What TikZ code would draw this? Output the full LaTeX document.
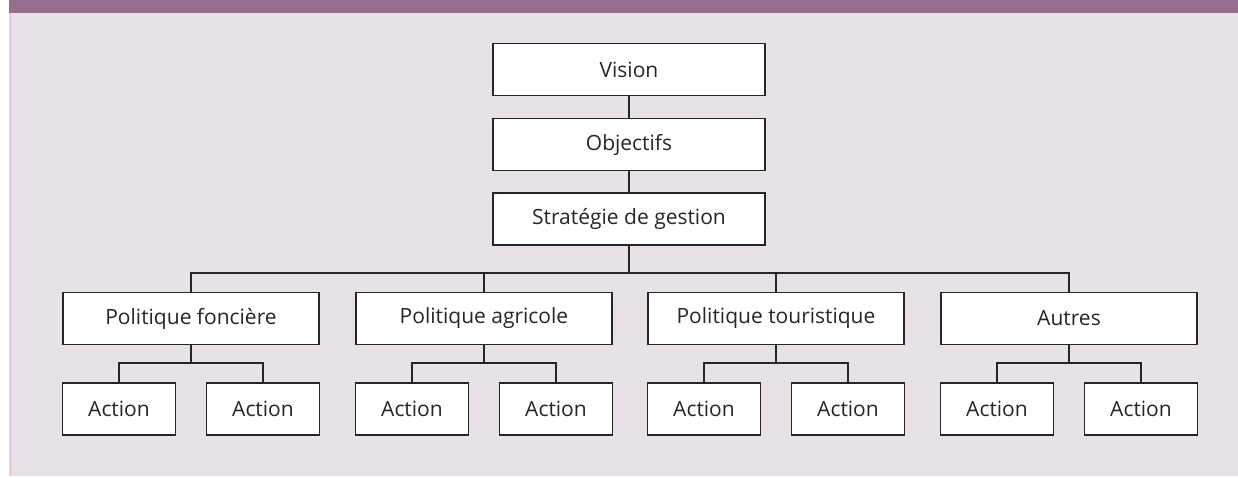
\documentclass[tikz,border=0pt]{standalone}
\usepackage{fontspec}
\setmainfont{Open Sans}
\definecolor{bandcol}{HTML}{966D8D}
\definecolor{panelcol}{HTML}{E8E2E8}
\definecolor{edgecol}{HTML}{D6BDD4}
\definecolor{inkcol}{HTML}{262626}
\tikzset{
  box/.style={draw=inkcol, fill=white, line width=0.6pt, minimum width=136pt,
    minimum height=26pt, inner sep=0pt, text=inkcol,
    font=\fontsize{10.5}{12}\selectfont},
  groupbox/.style={box, minimum width=128pt},
  actbox/.style={box, minimum width=56.5pt},
}
\begin{document}
\begin{tikzpicture}[x=0.5pt, y=-0.5pt]
      \useasboundingbox (0,0) rectangle (1238,477);
      \fill[panelcol] (9,0) rectangle (1238,476);
      \fill[bandcol] (9,0) rectangle (1238,13);
      \draw[edgecol, line width=0.8pt] (10.5,13) -- (10.5,476);
      \draw
        (629,69.5) node[box] (vision){Vision}
        (629,144.5) node[box] (obj){Objectifs}
        (629,219) node[box] (strat){Stratégie de gestion}
        (191,318.5) node[groupbox] (fonc){Politique foncière}
        (484,318.5) node[groupbox] (agri){Politique agricole}
        (776,318.5) node[groupbox] (tour){Politique touristique}
        (1069,318.5) node[groupbox] (autr){Autres}
        (119,409) node[actbox] (fonc1){Action}
        (263,409) node[actbox] (fonc2){Action}
        (412,409) node[actbox] (agri1){Action}
        (556,409) node[actbox] (agri2){Action}
        (704,409) node[actbox] (tour1){Action}
        (848,409) node[actbox] (tour2){Action}
        (997,409) node[actbox] (autr1){Action}
        (1141,409) node[actbox] (autr2){Action};
      \coordinate (bus) at (629,273);
      \coordinate (foncbus) at (191,363);
      \coordinate (agribus) at (484,363);
      \coordinate (tourbus) at (776,363);
      \coordinate (autrbus) at (1069,363);
      \begin{scope}[draw=inkcol, line width=0.6pt]
        \draw (vision) to (obj);
        \draw (obj) to (strat);
        \draw (strat) to (bus);
        \draw (bus) -| (fonc);
        \draw (bus) -| (agri);
        \draw (bus) -| (tour);
        \draw (bus) -| (autr);
        \draw (fonc) to (foncbus);
        \draw (foncbus) -| (fonc1);
        \draw (foncbus) -| (fonc2);
        \draw (agri) to (agribus);
        \draw (agribus) -| (agri1);
        \draw (agribus) -| (agri2);
        \draw (tour) to (tourbus);
        \draw (tourbus) -| (tour1);
        \draw (tourbus) -| (tour2);
        \draw (autr) to (autrbus);
        \draw (autrbus) -| (autr1);
        \draw (autrbus) -| (autr2);
      \end{scope}
    \end{tikzpicture}
\end{document}
